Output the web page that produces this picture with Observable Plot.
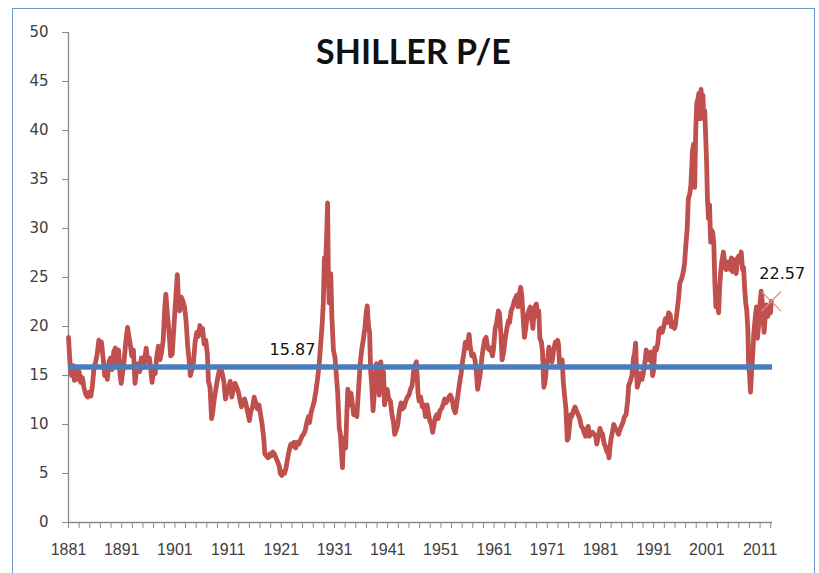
<!DOCTYPE html>
<html>
<head>
<meta charset="utf-8">
<script src="https://cdn.jsdelivr.net/npm/d3@7"></script>
<script src="https://cdn.jsdelivr.net/npm/@observablehq/plot@0.6"></script>
<style>
  html, body { margin: 0; padding: 0; background: #fff; overflow: hidden; }
  #wrap { position: relative; width: 819px; height: 573px; }
  #border { position: absolute; left: 12px; top: 8px; width: 803px; height: 600px; border: 1.5px solid #7099cf; box-sizing: border-box; }
  #chart { position: absolute; left: 0; top: 0; }
</style>
</head>
<body>
<div id="wrap"><div id="border"></div><div id="chart"></div></div>
<script>
// Shiller P/E (CAPE): [decimal year, value]
const shillerPE = [
  [1881.0,18.9],[1881.2,17.0],[1881.4,15.4],[1881.6,15.0],[1881.9,16.0],
  [1882.1,14.5],[1882.4,15.6],[1882.7,14.6],[1883.0,15.4],[1883.3,14.3],[1883.6,14.8],[1883.9,13.8],
  [1884.3,13.0],[1884.6,12.8],[1884.9,13.3],[1885.2,12.9],[1885.5,14.0],[1885.8,15.8],
  [1886.1,16.4],[1886.4,17.2],[1886.7,18.6],[1886.9,17.6],[1887.2,18.4],[1887.5,16.8],[1887.8,15.0],
  [1888.0,15.8],[1888.3,14.6],[1888.6,16.4],[1888.9,16.8],[1889.2,15.6],[1889.5,17.4],[1889.8,17.8],
  [1890.1,16.2],[1890.4,17.6],[1890.7,15.0],[1890.9,14.2],[1891.2,15.4],[1891.5,16.8],[1891.8,18.6],
  [1892.1,19.9],[1892.3,19.2],[1892.6,18.2],[1892.9,17.0],[1893.2,17.6],[1893.5,14.2],[1893.8,15.6],
  [1894.1,16.2],[1894.4,15.4],[1894.7,16.8],[1895.0,15.8],[1895.3,16.6],[1895.6,17.8],[1895.9,16.4],
  [1896.2,16.8],[1896.5,15.4],[1896.7,14.3],[1897.0,15.6],[1897.3,15.2],[1897.6,17.0],[1897.9,18.0],
  [1898.2,16.6],[1898.5,17.4],[1898.8,18.6],[1899.1,22.0],[1899.3,23.3],[1899.6,21.2],[1899.9,19.4],
  [1900.2,17.0],[1900.5,17.2],[1900.8,19.8],[1901.1,22.4],[1901.3,24.0],[1901.45,25.3],[1901.7,22.4],[1901.9,21.6],
  [1902.2,23.0],[1902.5,22.6],[1902.8,22.0],[1903.1,20.6],[1903.4,18.0],[1903.7,16.4],[1903.9,15.0],
  [1904.2,15.6],[1904.5,16.4],[1904.8,18.4],[1905.1,19.4],[1905.4,19.0],[1905.7,20.1],[1905.9,19.4],
  [1906.2,19.8],[1906.5,18.2],[1906.8,18.6],[1907.1,17.2],[1907.3,14.4],[1907.6,13.8],[1907.9,10.6],
  [1908.1,11.2],[1908.4,12.6],[1908.7,13.6],[1909.0,14.6],[1909.3,15.4],[1909.6,15.8],[1909.9,15.2],
  [1910.2,14.4],[1910.5,12.6],[1910.8,13.4],[1911.1,13.8],[1911.4,14.4],[1911.7,12.8],
  [1912.0,13.6],[1912.3,14.2],[1912.6,13.8],[1912.9,13.4],[1913.2,12.6],[1913.5,11.8],[1913.8,12.2],
  [1914.1,12.6],[1914.4,12.0],[1914.7,11.2],[1915.0,10.4],[1915.3,11.4],[1915.6,11.8],[1915.9,12.8],
  [1916.2,12.2],[1916.5,11.6],[1916.8,12.0],[1917.1,11.0],[1917.4,10.0],[1917.7,8.6],[1917.9,7.0],
  [1918.2,6.8],[1918.5,6.6],[1918.8,7.0],[1919.1,6.8],[1919.4,7.2],[1919.7,7.0],
  [1920.0,6.6],[1920.3,6.2],[1920.6,5.8],[1920.8,5.0],[1921.1,4.8],[1921.4,5.2],[1921.6,5.0],[1921.9,5.6],
  [1922.2,6.6],[1922.5,7.4],[1922.8,8.0],[1923.1,7.8],[1923.4,8.2],[1923.7,7.6],
  [1924.0,8.2],[1924.3,8.0],[1924.6,8.4],[1924.9,8.8],[1925.2,9.0],[1925.5,9.4],[1925.8,10.2],
  [1926.1,10.8],[1926.3,10.2],[1926.6,11.2],[1926.9,11.8],[1927.2,12.4],[1927.5,13.4],[1927.8,14.6],
  [1928.1,16.0],[1928.4,18.2],[1928.7,20.4],[1928.9,22.4],[1929.1,27.0],[1929.3,26.0],[1929.5,28.8],[1929.7,32.6],[1929.85,25.0],
  [1930.0,22.4],[1930.3,25.4],[1930.5,21.0],[1930.8,17.6],[1931.1,16.8],[1931.3,15.4],[1931.6,13.2],[1931.9,9.6],
  [1932.1,9.0],[1932.4,6.4],[1932.5,5.6],[1932.7,8.6],[1932.9,8.2],[1933.1,7.6],[1933.3,10.8],[1933.5,13.6],[1933.8,12.0],
  [1934.1,13.2],[1934.3,12.4],[1934.6,11.0],[1934.9,11.4],[1935.2,10.8],[1935.5,13.4],[1935.8,16.0],
  [1936.1,17.6],[1936.4,18.6],[1936.7,19.8],[1937.0,21.6],[1937.15,22.1],[1937.4,20.0],[1937.6,19.4],[1937.8,15.4],
  [1938.0,14.0],[1938.25,11.4],[1938.4,12.6],[1938.7,15.2],[1938.9,16.2],[1939.2,14.4],[1939.4,13.0],[1939.7,16.4],[1939.9,15.2],
  [1940.2,15.4],[1940.4,12.0],[1940.7,13.2],[1940.9,13.6],[1941.2,12.6],[1941.5,12.4],[1941.8,11.0],
  [1942.1,10.2],[1942.3,9.0],[1942.6,9.4],[1942.9,10.0],[1943.2,11.4],[1943.5,12.2],[1943.8,11.6],
  [1944.1,11.8],[1944.4,12.4],[1944.7,12.8],[1945.0,13.0],[1945.3,13.6],[1945.6,14.0],[1945.9,15.6],
  [1946.1,16.0],[1946.4,16.4],[1946.7,13.2],[1946.9,12.4],[1947.2,12.8],[1947.5,11.8],[1947.8,12.0],
  [1948.1,10.8],[1948.4,12.0],[1948.7,11.0],[1948.9,10.4],[1949.2,10.0],[1949.45,9.2],[1949.7,10.0],[1949.9,10.6],
  [1950.2,11.0],[1950.5,10.6],[1950.8,11.4],[1951.1,11.6],[1951.4,12.0],[1951.7,12.6],[1951.9,12.2],
  [1952.2,12.4],[1952.5,12.8],[1952.8,13.0],[1953.1,12.6],[1953.4,11.6],[1953.7,11.2],[1953.9,11.8],
  [1954.2,13.0],[1954.5,14.2],[1954.8,15.2],[1955.0,16.2],[1955.3,17.2],[1955.6,18.4],[1955.9,17.8],
  [1956.1,18.4],[1956.3,19.2],[1956.5,18.0],[1956.8,17.0],[1957.1,17.2],[1957.4,16.6],[1957.6,15.8],[1957.9,13.6],
  [1958.1,14.2],[1958.4,15.2],[1958.7,16.8],[1958.9,17.6],[1959.2,18.6],[1959.5,18.9],[1959.8,17.8],
  [1960.1,17.6],[1960.4,17.8],[1960.7,17.0],[1960.9,17.8],[1961.2,19.8],[1961.5,20.4],[1961.8,21.6],
  [1962.0,21.4],[1962.3,19.0],[1962.5,16.6],[1962.8,17.4],[1963.1,18.8],[1963.4,19.8],[1963.7,20.6],[1963.9,20.4],
  [1964.2,21.6],[1964.5,22.0],[1964.8,22.6],[1965.1,23.0],[1965.3,23.2],[1965.5,22.0],[1965.8,23.4],
  [1966.0,24.0],[1966.2,23.2],[1966.5,20.6],[1966.7,18.9],[1966.9,19.6],[1967.2,21.0],[1967.5,21.6],[1967.8,22.0],
  [1968.1,20.6],[1968.3,19.8],[1968.5,21.4],[1968.8,22.2],[1968.95,22.3],[1969.2,21.0],[1969.4,21.6],[1969.6,18.8],[1969.9,18.4],
  [1970.1,17.4],[1970.35,13.8],[1970.6,14.4],[1970.8,15.6],[1971.1,16.8],[1971.3,17.9],[1971.6,16.8],[1971.9,16.4],
  [1972.2,17.6],[1972.5,18.4],[1972.7,18.0],[1972.95,18.6],[1973.1,18.2],[1973.3,16.2],[1973.6,15.8],[1973.8,16.6],
  [1974.0,14.4],[1974.2,13.2],[1974.5,11.6],[1974.75,8.4],[1974.95,8.6],[1975.2,10.0],[1975.4,11.0],[1975.6,10.8],[1975.9,11.4],
  [1976.2,11.8],[1976.5,11.4],[1976.8,11.0],[1977.1,10.6],[1977.4,9.8],[1977.7,9.6],[1977.9,9.2],
  [1978.2,8.8],[1978.5,9.6],[1978.7,9.8],[1978.9,8.8],[1979.2,9.0],[1979.5,9.2],[1979.8,9.0],
  [1980.1,8.8],[1980.3,8.0],[1980.6,8.8],[1980.9,9.6],[1981.1,9.2],[1981.4,9.0],[1981.7,8.0],[1981.9,7.8],
  [1982.2,7.2],[1982.4,7.4],[1982.6,6.6],[1982.8,7.8],[1983.0,8.6],[1983.3,9.4],[1983.5,10.0],[1983.8,9.6],
  [1984.1,9.4],[1984.4,9.0],[1984.6,9.4],[1984.9,9.8],[1985.2,10.2],[1985.5,10.8],[1985.8,11.0],
  [1986.1,12.4],[1986.3,14.0],[1986.6,14.4],[1986.9,15.0],[1987.2,16.8],[1987.4,17.2],[1987.6,18.3],[1987.8,15.0],[1987.9,13.8],
  [1988.2,14.4],[1988.5,15.2],[1988.8,14.6],[1989.1,15.4],[1989.4,16.6],[1989.6,17.6],[1989.8,17.2],
  [1990.0,16.6],[1990.3,17.0],[1990.5,17.4],[1990.8,15.0],[1991.0,15.6],[1991.2,17.8],[1991.5,17.6],[1991.8,18.4],
  [1992.0,19.6],[1992.3,19.8],[1992.6,19.4],[1992.9,20.0],[1993.2,20.8],[1993.5,20.4],[1993.8,21.4],
  [1994.1,21.2],[1994.3,20.0],[1994.6,20.4],[1994.9,19.8],[1995.1,20.2],[1995.4,21.6],[1995.7,23.0],[1995.9,24.4],
  [1996.2,24.8],[1996.5,25.4],[1996.8,26.4],[1997.0,28.0],[1997.3,30.0],[1997.5,33.0],[1997.8,33.6],
  [1998.0,34.5],[1998.3,38.0],[1998.5,38.6],[1998.7,34.2],[1998.9,40.0],[1999.1,42.8],[1999.3,43.2],[1999.5,43.8],[1999.7,41.2],[1999.9,44.2],
  [2000.1,42.6],[2000.25,43.6],[2000.4,41.2],[2000.6,42.0],[2000.8,39.0],[2000.95,36.6],
  [2001.1,33.0],[2001.3,31.0],[2001.5,32.4],[2001.7,28.6],[2001.9,29.8],
  [2002.1,29.6],[2002.3,28.4],[2002.5,24.4],[2002.7,22.0],[2002.9,22.8],[2003.2,21.4],[2003.4,24.0],[2003.6,25.6],[2003.8,26.6],
  [2004.1,27.6],[2004.3,26.8],[2004.6,25.8],[2004.9,26.6],[2005.2,26.4],[2005.4,25.8],[2005.6,27.0],[2005.8,25.6],
  [2006.1,26.6],[2006.3,26.8],[2006.5,25.4],[2006.8,27.0],[2007.0,27.2],[2007.2,26.6],[2007.45,27.6],[2007.7,25.8],[2007.9,26.0],
  [2008.1,23.8],[2008.3,22.4],[2008.5,21.6],[2008.7,19.6],[2008.85,15.8],[2009.0,15.2],[2009.2,13.3],[2009.4,15.4],[2009.6,17.0],[2009.8,19.2],
  [2010.0,20.4],[2010.3,22.0],[2010.5,18.8],[2010.8,20.6],[2011.0,22.4],[2011.2,23.6],[2011.4,22.6],[2011.6,20.8],[2011.75,19.4],[2011.9,20.6],
  [2012.2,22.2],[2012.4,21.0],[2012.6,21.4],[2012.8,22.0],[2012.95,21.4],[2013.1,22.57]
];
const meanPE = 15.87;
const lastDate = 2013.1;
const lastPE = 22.57;
const yTicks = [0, 5, 10, 15, 20, 25, 30, 35, 40, 45, 50];
const xLabelYears = [1881, 1891, 1901, 1911, 1921, 1931, 1941, 1951, 1961, 1971, 1981, 1991, 2001, 2011];
const xMinorTicks = d3.range(1881, 2014, 2);
const xDomain = [1881, 2013.33];
const titleText = "SHILLER P/E";

const data = shillerPE.map(([t, v]) => ({t, v}));
const axisColor = "#8a8a8a";
const labelColor = "#404040";

const chart = Plot.plot({
  width: 819,
  height: 573,
  marginLeft: 68,
  marginRight: 47,
  marginTop: 32,
  marginBottom: 51,
  style: {fontFamily: "DejaVu Sans", background: "transparent"},
  x: {domain: xDomain},
  y: {domain: [0, 50]},
  marks: [
    Plot.ruleX([xDomain[0]], {stroke: axisColor, strokeWidth: 1.3}),
    Plot.ruleY([0], {stroke: axisColor, strokeWidth: 1.3}),
    Plot.axisY({ticks: yTicks, tickSize: 6, tickPadding: 14, stroke: axisColor, color: labelColor, fontSize: 15, label: null, tickFormat: d => String(d)}),
    Plot.axisX({ticks: xMinorTicks, tickSize: 6, stroke: axisColor, tickFormat: () => "", label: null}),
    Plot.axisX({ticks: xLabelYears, tickSize: 0, tickPadding: 21, color: labelColor, fontSize: 16, fontFamily: "Liberation Sans", label: null, tickFormat: d => String(d)}),
    Plot.line(data, {x: "t", y: "v", stroke: "#c0504d", strokeWidth: 4.8, strokeLinejoin: "round", strokeLinecap: "round"}),
    Plot.ruleY([meanPE], {stroke: "#4a7ebb", strokeWidth: 5.5}),
    Plot.text([meanPE], {x: 1923.1, y: d => d, text: d => d.toFixed(2), dy: -17, fontSize: 16, fill: "#111", textAnchor: "middle"}),
    Plot.dot([lastPE], {x: lastDate, y: d => d, symbol: "times", r: 9, stroke: "#e08a8a", strokeWidth: 1.2}),
    Plot.text([lastPE], {x: lastDate, y: d => d, text: d => d.toFixed(2), dx: 11, dy: -27, fontSize: 16, fill: "#111", textAnchor: "middle"}),
    Plot.text([titleText], {frameAnchor: "top", dx: -7, dy: 7, text: d => d, fontSize: 34, fontWeight: "bold", fontFamily: "Lato", fill: "#111"})
  ]
});
document.getElementById("chart").appendChild(chart);
</script>
</body>
</html>
